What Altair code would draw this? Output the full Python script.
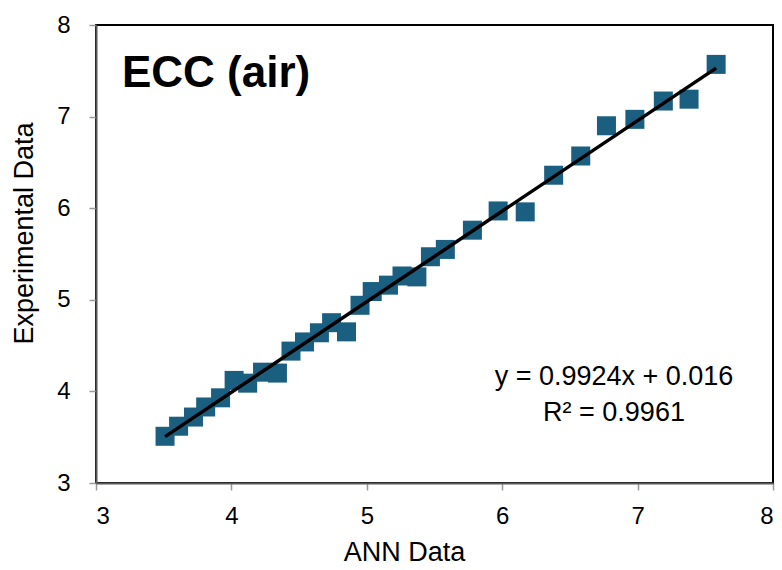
import altair as alt
import pandas as pd

ann = [3.51, 3.61, 3.72, 3.81, 3.92, 4.02, 4.12, 4.23, 4.34, 4.44, 4.54, 4.65, 4.74, 4.85,
       4.95, 5.04, 5.16, 5.26, 5.37, 5.47, 5.58, 5.78, 5.97, 6.17, 6.38, 6.58, 6.77, 6.98,
       7.19, 7.38, 7.58]
experimental = [3.51, 3.62, 3.72, 3.83, 3.93, 4.12, 4.09, 4.21, 4.20, 4.44, 4.54, 4.64, 4.75,
                4.65, 4.94, 5.09, 5.16, 5.26, 5.25, 5.47, 5.55, 5.76, 5.97, 5.96, 6.36, 6.57,
                6.90, 6.97, 7.17, 7.19, 7.57]
ticks = [3, 4, 5, 6, 7, 8]
title_text = "ECC (air)"
eq_lines = ["y = 0.9924x + 0.016", "R² = 0.9961"]

df = pd.DataFrame({"ann": ann, "exp": experimental})

FONT = "Liberation Sans"

xscale = alt.Scale(domain=[3, 8], nice=False, zero=False)
yscale = alt.Scale(domain=[3, 8], nice=False, zero=False)

xaxis = alt.Axis(title="ANN Data", values=ticks, format="d", grid=False, domainColor="#595959",
                 domainWidth=2, tickColor="#9a9a9a", tickSize=7, tickWidth=1.5, labelFontSize=24,
                 labelFont=FONT, labelColor="#000000", labelPadding=14, titleFont=FONT,
                 titleFontSize=27, titleFontWeight="normal", titleColor="#000000", titlePadding=11,
                 titleX=308)
yaxis = alt.Axis(title="Experimental Data", values=ticks, format="d", grid=False,
                 domainColor="#595959", domainWidth=2, tickColor="#9a9a9a", tickSize=7,
                 tickWidth=1.5, labelFontSize=24, labelFont=FONT, labelColor="#000000",
                 labelPadding=19, titleFont=FONT, titleFontSize=27, titleFontWeight="normal",
                 titleColor="#000000", titlePadding=18, titleY=208)

base = alt.Chart(df)

points = base.mark_square(size=361, color="#1a5e80", opacity=1).encode(
    x=alt.X("ann:Q", scale=xscale, axis=xaxis),
    y=alt.Y("exp:Q", scale=yscale, axis=yaxis),
)

fit = base.transform_regression("ann", "exp").mark_line(color="#000000", strokeWidth=3.5).encode(
    x=alt.X("ann:Q", scale=xscale),
    y=alt.Y("exp:Q", scale=yscale),
)

title = alt.Chart(pd.DataFrame({"t": [title_text]})).mark_text(
    font=FONT, fontSize=44, fontWeight="bold", align="left", baseline="alphabetic", color="#000000"
).encode(x=alt.value(26), y=alt.value(62), text="t:N")

eq = alt.Chart(pd.DataFrame({"t": eq_lines, "yy": [360, 396]})).mark_text(
    font=FONT, fontSize=27, align="center", baseline="alphabetic", color="#000000"
).encode(x=alt.value(518), y=alt.Y("yy:Q", scale=None), text="t:N")

chart = alt.layer(points, fit, title, eq).properties(
    width=677, height=458,
    autosize=alt.AutoSizeParams(type="none"),
    padding={"left": 96, "top": 25, "right": 9, "bottom": 87},
    background="white",
).configure_view(stroke="#000000", strokeWidth=2)

chart.save("out.html", embed_options={"renderer": "svg", "actions": False})
